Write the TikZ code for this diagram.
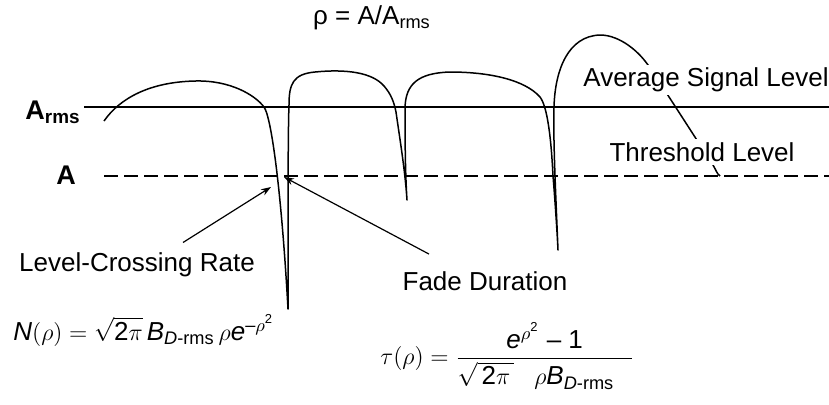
\documentclass[tikz,border=0pt]{standalone}
\usepackage{amsmath}
\usepackage{fontspec}
\setmainfont{Liberation Sans}
\usetikzlibrary{arrows.meta}

\begin{document}
\begin{tikzpicture}[x=0.5pt,y=-0.5pt,
  lbl/.style={font=\fontsize{13}{15}\selectfont,inner sep=0pt},
  lvl/.style={font=\fontsize{13.5}{15}\selectfont\bfseries,inner sep=0pt},
  cover/.style={lbl,fill=white,inner sep=1.5pt},
  sig/.style={line width=0.75pt,line join=round},
  rmsline/.style={line width=0.6pt},
  thrline/.style={line width=1pt,dash pattern=on 7pt off 3pt},
  arr/.style={-{Stealth[length=5pt,width=3.5pt]},line width=0.6pt}
]
\useasboundingbox (0,0) rectangle (829,404);

% levels
\node[lvl] (arms) at (53,112) {A\textsubscript{rms}};
\node[lvl] (alev) at (66,175) {A};
\draw[rmsline] (84,107) -- (829,107);
\draw[thrline] (104,176) -- (829,176);

% fading signal
\draw[sig] (104,121) .. controls (120,98) and (150,82) .. (195,81)
  .. controls (230,80) and (255,95) .. (264,107)
  .. controls (272,118) and (282,200) .. (288,309)
  .. controls (288,200) and (288,130) .. (289,105)
  .. controls (289,84) and (293,74) .. (315,72)
  .. controls (345,69) and (372,72) .. (384,86)
  .. controls (391,94) and (394,102) .. (396,112)
  .. controls (400,140) and (405,170) .. (407,200)
  .. controls (405,170) and (405,130) .. (405,107)
  .. controls (406,84) and (418,73) .. (450,72)
  .. controls (490,72) and (525,80) .. (540,97)
  .. controls (547,106) and (551,135) .. (553,176)
  .. controls (555,200) and (557,230) .. (558,250)
  .. controls (556,200) and (553,140) .. (554,107)
  .. controls (555,70) and (568,36) .. (600,35)
  .. controls (620,35) and (640,52) .. (650,68)
  .. controls (670,98) and (700,145) .. (713,165)
  .. controls (716,170) and (717,174) .. (720,176);

\coordinate (xcross) at (271,187);
\coordinate (fadept) at (284,177);

% labels
\node[lbl] (rho) at (372,18) {ρ = A/A\textsubscript{rms}};
\node[cover] (avg) at (706,80) {Average Signal Level};
\node[cover] (thr) at (702,152) {Threshold Level};
\node[lbl] (lcr) at (137,265) {Level-Crossing Rate};
\node[lbl] (fade) at (485,281) {Fade Duration};
\node[lbl,anchor=base west] (nrho) at (13,340)
  {$\textit{N}(\rho) = \sqrt{\text{2}\pi}\,\textit{B}_{\textit{D}\text{-rms}}\,\rho\textit{e}^{\text{–}\rho^{\text{2}}}$};
\node[lbl,anchor=west] (taurho) at (380,356)
  {$\displaystyle \tau(\rho) = \frac{\textit{e}^{\rho^{\text{2}}}\text{ – 1}}{\sqrt{\,\text{2}\pi\,}\;\;\;\rho\textit{B}_{\textit{D}\text{-rms}}\;\;\,}$};

\draw[arr] ([xshift=23pt,yshift=5pt]lcr.north) -- (xcross);
\draw[arr] ([xshift=-28pt,yshift=8.5pt]fade.north) -- (fadept);
\end{tikzpicture}
\end{document}
